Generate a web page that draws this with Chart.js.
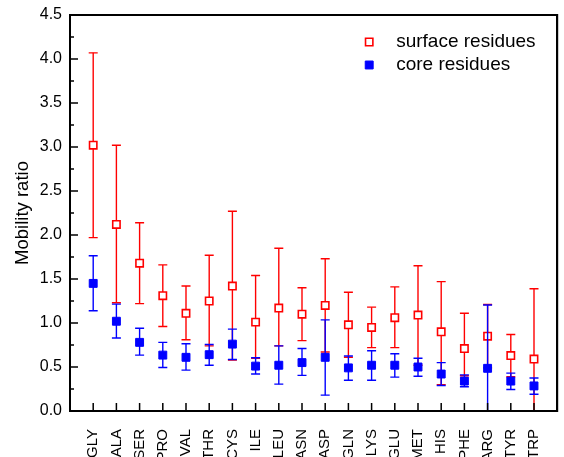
<!DOCTYPE html>
<html><head><meta charset="utf-8">
<script src="https://cdn.jsdelivr.net/npm/chart.js@4/dist/chart.umd.min.js"></script>
<style>html,body{margin:0;padding:0;overflow:hidden;background:#fff;width:564px;height:457px}</style>
</head><body>
<canvas id="c" width="564" height="475"></canvas>
<script>
const categories = ['GLY','ALA','SER','PRO','VAL','THR','CYS','ILE','LEU','ASN','ASP','GLN','LYS','GLU','MET','HIS','PHE','ARG','TYR','TRP'];

const surfaceMean = [3.02, 2.12, 1.68, 1.31, 1.11, 1.25, 1.42, 1.01, 1.17, 1.10, 1.20, 0.98, 0.95, 1.06, 1.09, 0.90, 0.71, 0.85, 0.63, 0.59];
const surfaceHigh = [4.07, 3.02, 2.14, 1.66, 1.42, 1.77, 2.27, 1.54, 1.85, 1.40, 1.73, 1.35, 1.18, 1.41, 1.65, 1.47, 1.11, 1.21, 0.87, 1.39];
const surfaceLow  = [1.97, 1.23, 1.22, 0.96, 0.81, 0.74, 0.58, 0.60, 0.74, 0.80, 0.67, 0.61, 0.72, 0.72, 0.52, 0.30, 0.40, 0.49, 0.39, -0.20];

const coreMean = [1.45, 1.02, 0.78, 0.635, 0.61, 0.64, 0.76, 0.51, 0.52, 0.55, 0.61, 0.49, 0.52, 0.52, 0.50, 0.42, 0.34, 0.485, 0.34, 0.285];
const coreHigh = [1.765, 1.215, 0.94, 0.78, 0.765, 0.755, 0.93, 0.605, 0.74, 0.71, 1.035, 0.625, 0.685, 0.65, 0.60, 0.55, 0.41, 1.205, 0.43, 0.375];
const coreLow  = [1.14, 0.83, 0.635, 0.495, 0.465, 0.52, 0.585, 0.42, 0.305, 0.405, 0.18, 0.35, 0.35, 0.385, 0.395, 0.29, 0.275, -0.20, 0.245, 0.19];

const yTickValues = [0, 0.5, 1.0, 1.5, 2.0, 2.5, 3.0, 3.5, 4.0, 4.5];
const seriesNames = ['surface residues', 'core residues'];

const FONT = "'Liberation Sans', Arial, Helvetica, sans-serif";
const RED = '#ff0000', BLUE = '#0000ff';

function segments(low, high) {
  const pts = [];
  categories.forEach((_, i) => { pts.push({x: i, y: low[i]}, {x: i, y: high[i]}, {x: i, y: null}); });
  return pts;
}
function caps(low, high) {
  const pts = [];
  categories.forEach((_, i) => { pts.push({x: i, y: low[i]}, {x: i, y: high[i]}); });
  return pts;
}
function points(vals) { return vals.map((v, i) => ({x: i, y: v})); }

const framePlugin = {
  id: 'frame',
  afterDraw(chart) {
    const {ctx, chartArea: a, scales: {x, y}} = chart;
    ctx.save();
    ctx.strokeStyle = '#000';
    ctx.lineWidth = 1.5;
    ctx.beginPath();
    y.ticks.forEach((t, k) => {
      const py = y.getPixelForValue(t.value);
      ctx.moveTo(a.left, py); ctx.lineTo(a.left + 8, py);
      if (k < y.ticks.length - 1) {
        const pm = y.getPixelForValue((t.value + y.ticks[k + 1].value) / 2);
        ctx.moveTo(a.left, pm); ctx.lineTo(a.left + 4, pm);
      }
    });
    x.ticks.forEach(t => {
      const px = x.getPixelForValue(t.value);
      ctx.moveTo(px, a.bottom); ctx.lineTo(px, a.bottom - 8);
    });
    ctx.stroke();
    ctx.lineWidth = 2;
    ctx.strokeRect(a.left, a.top, a.right - a.left, a.bottom - a.top);

    const items = [
      {name: seriesNames[0], y: a.top + 27, ds: chart.data.datasets[2]},
      {name: seriesNames[1], y: a.top + 50, ds: chart.data.datasets[5]}
    ];
    items.forEach(it => {
      const mx = a.right - 188;
      const s = it.ds.pointRadius * Math.SQRT1_2;
      ctx.fillStyle = it.ds.backgroundColor;
      ctx.strokeStyle = it.ds.borderColor;
      ctx.lineWidth = it.ds.borderWidth;
      ctx.beginPath();
      ctx.rect(mx - s, it.y - s, 2 * s, 2 * s);
      ctx.fill(); ctx.stroke();
      ctx.fillStyle = '#000';
      ctx.font = '19px ' + FONT;
      ctx.textBaseline = 'middle';
      ctx.textAlign = 'left';
      ctx.fillText(it.name, a.right - 161, it.y);
    });
    ctx.restore();
  }
};

const frameBorder = {display: true, color: '#000', width: 2};

new Chart(document.getElementById('c'), {
  type: 'scatter',
  data: {
    datasets: [
      {label: 'surface err', data: segments(surfaceLow, surfaceHigh), showLine: true, spanGaps: false,
       borderColor: RED, borderWidth: 1.4, pointRadius: 0, order: 6},
      {label: 'surface caps', data: caps(surfaceLow, surfaceHigh), pointStyle: 'line', pointRadius: 4.5,
       borderColor: RED, borderWidth: 1.4, order: 5},
      {label: seriesNames[0], data: points(surfaceMean), pointStyle: 'rect', pointRadius: 5.2,
       backgroundColor: '#ffffff', borderColor: RED, borderWidth: 1.6, order: 4},
      {label: 'core err', data: segments(coreLow, coreHigh), showLine: true, spanGaps: false,
       borderColor: BLUE, borderWidth: 1.4, pointRadius: 0, order: 3},
      {label: 'core caps', data: caps(coreLow, coreHigh), pointStyle: 'line', pointRadius: 4.5,
       borderColor: BLUE, borderWidth: 1.4, order: 2},
      {label: seriesNames[1], data: points(coreMean), pointStyle: 'rect', pointRadius: 5.6,
       backgroundColor: BLUE, borderColor: BLUE, borderWidth: 1, order: 1}
    ]
  },
  options: {
    responsive: false,
    animation: false,
    events: [],
    layout: {padding: {left: 0, right: 6, top: 15, bottom: 0}},
    plugins: {legend: {display: false}, tooltip: {enabled: false}},
    scales: {
      x: {
        type: 'linear', min: -1, max: 20,
        afterFit(s) { s.height = 64; s.paddingLeft = 0; s.paddingRight = 0; },
        afterBuildTicks(s) { s.ticks = categories.map((_, i) => ({value: i})); },
        grid: {display: false, drawTicks: false},
        border: frameBorder,
        ticks: {autoSkip: false, maxRotation: 90, minRotation: 90, padding: 18, color: '#000',
                font: {family: FONT, size: 15}, callback: (v) => categories[v] ?? ''}
      },
      y: {
        min: 0, max: 4.5,
        afterFit(s) { s.width = 70; s.paddingTop = 0; s.paddingBottom = 0; },
        afterBuildTicks(s) { s.ticks = yTickValues.map(v => ({value: v})); },
        grid: {display: false, drawTicks: false},
        border: frameBorder,
        ticks: {padding: 8, color: '#000', font: {family: FONT, size: 16}, callback: (v) => Number(v).toFixed(1)},
        title: {display: true, text: 'Mobility ratio', color: '#000', font: {family: FONT, size: 18.5},
                padding: {top: 12, bottom: 0}}
      },
      xTop: {
        type: 'linear', position: 'top', min: -1, max: 20,
        afterFit(s) { s.height = 0; s.paddingLeft = 0; s.paddingRight = 0; },
        grid: {display: false, drawTicks: false},
        border: frameBorder,
        ticks: {display: false}
      },
      yRight: {
        type: 'linear', position: 'right', min: 0, max: 4.5,
        afterFit(s) { s.width = 0; s.paddingTop = 0; s.paddingBottom = 0; },
        grid: {display: false, drawTicks: false},
        border: frameBorder,
        ticks: {display: false}
      }
    }
  },
  plugins: [framePlugin]
});
</script>
</body></html>
